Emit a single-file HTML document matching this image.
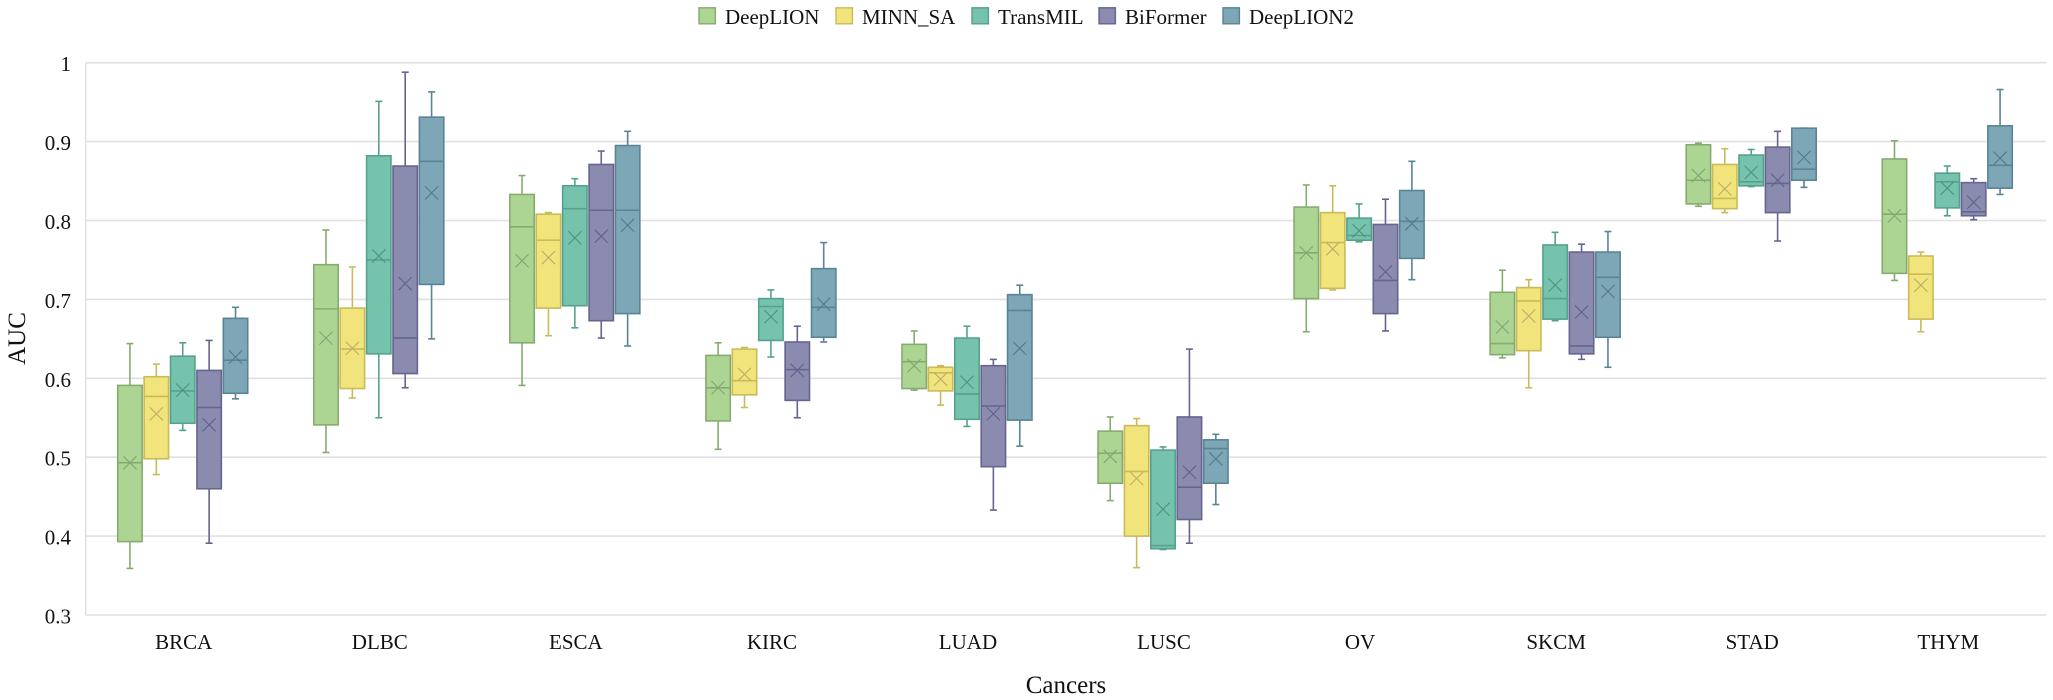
<!DOCTYPE html>
<html lang="en">
<head>
<meta charset="utf-8">
<title>AUC by cancer type</title>
<style>
html,body{margin:0;padding:0;background:#fff;width:2053px;height:700px;overflow:hidden}
svg{display:block;font-family:"Liberation Serif",serif;fill:#111}
</style>
</head>
<body>
<svg id="chart" xmlns="http://www.w3.org/2000/svg" width="2053" height="700" viewBox="0 0 2053 700"></svg>
<script>
const categories = ['BRCA','DLBC','ESCA','KIRC','LUAD','LUSC','OV','SKCM','STAD','THYM'];
const seriesNames = ['DeepLION','MINN_SA','TransMIL','BiFormer','DeepLION2'];
const yTickLabels = ['0.3','0.4','0.5','0.6','0.7','0.8','0.9','1'];
const yTickValues = [0.3,0.4,0.5,0.6,0.7,0.8,0.9,1];

/* each row is a category, each column a series */
const whiskerHigh = [
 [.644,.618,.645,.648,.690],
 [.788,.741,.951,.988,.963],
 [.857,.810,.853,.888,.913],
 [.645,.639,.712,.666,.772],
 [.660,.616,.666,.624,.718],
 [.551,.549,.513,.637,.529],
 [.845,.844,.821,.827,.875],
 [.737,.725,.785,.770,.786],
 [.898,.891,.890,.913,.917],
 [.901,.760,.869,.853,.966]
];
const q3 = [
 [.591,.602,.628,.610,.676],
 [.744,.689,.882,.869,.931],
 [.833,.808,.844,.871,.895],
 [.629,.637,.701,.646,.739],
 [.643,.614,.651,.616,.706],
 [.533,.540,.509,.551,.522],
 [.817,.810,.803,.795,.838],
 [.709,.715,.769,.760,.760],
 [.896,.871,.883,.893,.917],
 [.878,.755,.860,.848,.920]
];
const median = [
 [.493,.577,.584,.563,.623],
 [.688,.637,.750,.651,.875],
 [.792,.775,.815,.813,.813],
 [.588,.597,.691,.611,.690],
 [.621,.607,.580,.565,.686],
 [.505,.482,.388,.462,.511],
 [.759,.772,.781,.724,.799],
 [.644,.698,.701,.641,.728],
 [.851,.828,.849,.847,.865],
 [.808,.732,.849,.811,.870]
];
const q1 = [
 [.393,.498,.543,.460,.581],
 [.541,.587,.631,.606,.719],
 [.645,.689,.692,.673,.682],
 [.546,.579,.648,.572,.652],
 [.587,.584,.548,.488,.547],
 [.467,.400,.384,.421,.467],
 [.701,.714,.775,.682,.752],
 [.630,.635,.675,.631,.652],
 [.821,.815,.844,.810,.851],
 [.733,.675,.816,.806,.841]
];
const whiskerLow = [
 [.359,.478,.534,.391,.574],
 [.506,.575,.550,.588,.650],
 [.591,.654,.664,.651,.641],
 [.510,.563,.627,.550,.646],
 [.585,.566,.539,.433,.514],
 [.445,.360,.383,.391,.440],
 [.659,.712,.773,.660,.725],
 [.626,.588,.673,.624,.614],
 [.818,.810,.843,.774,.842],
 [.724,.659,.806,.801,.833]
];
const means = [
 [.493,.555,.585,.541,.627],
 [.651,.638,.755,.720,.835],
 [.749,.753,.778,.780,.794],
 [.588,.605,.678,.610,.694],
 [.616,.599,.595,.555,.638],
 [.501,.473,.434,.481,.498],
 [.759,.764,.787,.735,.796],
 [.665,.679,.718,.684,.710],
 [.857,.840,.861,.851,.880],
 [.806,.718,.841,.823,.879]
];
const fills = ['#acd594','#f0e47b','#76c3ad','#8b8bb0','#7da7b6'];
const strokes = ['#86ab6f','#c9bb5b','#56a18d','#65658f','#598494'];
const crossColors = ['#83a473','#b9ae68','#4f9080','#625f8a','#527a8a'];

const plotLeft = 85.7, plotRight = 2046.3, plotTop = 62.7, plotBottom = 615;
const NS = 'http://www.w3.org/2000/svg';
const svg = document.getElementById('chart');

function yScale(v){ return plotBottom - (v - 0.3) / 0.7 * (plotBottom - plotTop); }
function xScale(i){ return plotLeft + (i + 0.5) * (plotRight - plotLeft) / categories.length; }
function seriesX(i, s){ return xScale(i) - 1 + (s - 2) * 26.4; }
function mk(tag, attrs, parent){
  const el = document.createElementNS(NS, tag);
  for (const k in attrs) el.setAttribute(k, attrs[k]);
  (parent || svg).appendChild(el);
  return el;
}

/* gridlines and y ticks */
yTickValues.forEach(function(v, i){
  const line = mk('line', {x1: plotLeft, x2: plotRight, y1: yScale(v), y2: yScale(v), stroke: '#e0e0e0', 'stroke-width': 1.6});
  
  
  const t = mk('text', {x: 71, y: yScale(v) + 8.5, 'text-anchor': 'end', 'font-size': 21});
  t.textContent = yTickLabels[i];
  
  
});
const yAxisLine = mk('line', {x1: plotLeft, x2: plotLeft, y1: plotTop, y2: plotBottom, stroke: '#e0e0e0', 'stroke-width': 1.6});



/* boxes */
categories.forEach(function(cat, i){
  const g = mk('g', {});
  
  
  seriesNames.forEach(function(name, s){
    const cx = seriesX(i, s), hw = 12.2, cap = 3.5;
    const box = mk('g', {}, g);
    
    
    const st = {stroke: strokes[s], 'stroke-width': 1.6};
    mk('line', Object.assign({x1: cx, x2: cx, y1: yScale(whiskerHigh[i][s]), y2: yScale(q3[i][s])}, st), box);
    mk('line', Object.assign({x1: cx, x2: cx, y1: yScale(q1[i][s]), y2: yScale(whiskerLow[i][s])}, st), box);
    mk('line', Object.assign({x1: cx - cap, x2: cx + cap, y1: yScale(whiskerHigh[i][s]), y2: yScale(whiskerHigh[i][s])}, st), box);
    mk('line', Object.assign({x1: cx - cap, x2: cx + cap, y1: yScale(whiskerLow[i][s]), y2: yScale(whiskerLow[i][s])}, st), box);
    mk('rect', {x: cx - hw, width: hw * 2, y: yScale(q3[i][s]), height: yScale(q1[i][s]) - yScale(q3[i][s]), fill: fills[s], stroke: strokes[s], 'stroke-width': 1.6}, box);
    mk('line', Object.assign({x1: cx - hw, x2: cx + hw, y1: yScale(median[i][s]), y2: yScale(median[i][s])}, st), box);
    const my = yScale(means[i][s]), r = 6.6;
    mk('line', {x1: cx - r, x2: cx + r, y1: my - r, y2: my + r, stroke: crossColors[s], 'stroke-width': 1.1}, box);
    mk('line', {x1: cx - r, x2: cx + r, y1: my + r, y2: my - r, stroke: crossColors[s], 'stroke-width': 1.1}, box);
  });
  const label = mk('text', {x: xScale(i), y: 649, 'text-anchor': 'middle', 'font-size': 21});
  label.textContent = cat;
  
  
});

/* legend */
const legendSwatchX = [699, 836, 972, 1099, 1223];
const legend = mk('g', {});


seriesNames.forEach(function(name, s){
  const entry = mk('g', {}, legend);
  
  
  mk('rect', {x: legendSwatchX[s], y: 7.8, width: 16.4, height: 16, fill: fills[s], stroke: strokes[s], 'stroke-width': 1.4}, entry);
  const t = mk('text', {x: legendSwatchX[s] + 26, y: 24, 'font-size': 21}, entry);
  t.textContent = name;
});

/* axis titles */
const xTitle = mk('text', {x: 1066, y: 693, 'text-anchor': 'middle', 'font-size': 25});
xTitle.textContent = 'Cancers';


const yTitle = mk('text', {x: 0, y: 0, 'text-anchor': 'middle', 'font-size': 25, transform: 'translate(25 338.5) rotate(-90)'});
yTitle.textContent = 'AUC';


</script>
</body>
</html>
